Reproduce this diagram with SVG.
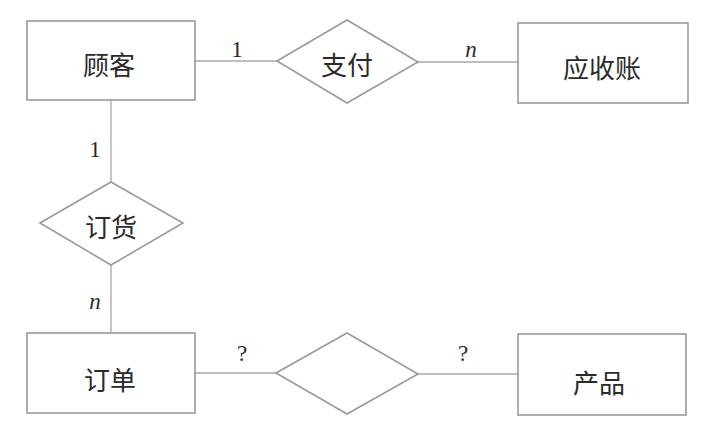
<svg xmlns="http://www.w3.org/2000/svg" width="709" height="438" viewBox="0 0 709 438">
<style>
.box{fill:#fff;stroke:#9a9a9a;stroke-width:1.6}
.ln{stroke:#a8a8a8;stroke-width:1.3;fill:none}
.t{font-family:"Noto Sans CJK SC","Noto Sans",sans-serif;font-size:26px;fill:#2a2a2a;text-anchor:middle;dominant-baseline:central}
.c{font-family:"Liberation Serif",serif;font-size:23px;fill:#2a2a2a;text-anchor:middle}
.i{font-style:italic}
</style>
<rect width="709" height="438" fill="#fff"/>
<g id="connectors">
<line class="ln" x1="195" y1="61" x2="277" y2="61"/>
<line class="ln" x1="418" y1="62" x2="518" y2="62"/>
<line class="ln" x1="111" y1="100" x2="111" y2="182"/>
<line class="ln" x1="111" y1="265" x2="111" y2="333"/>
<line class="ln" x1="195" y1="373" x2="276" y2="373"/>
<line class="ln" x1="418" y1="374" x2="518" y2="374"/>
<text class="c" x="237" y="57">1</text>
<text class="c i" x="471" y="57">n</text>
<text class="c" x="95" y="157">1</text>
<text class="c i" x="95" y="309">n</text>
<text class="c" x="242" y="361">?</text>
<text class="c" x="463" y="361">?</text>
</g>
<g id="customer">
<rect class="box" x="27" y="21" width="168" height="79"/>
<text class="t" x="109" y="63">顾客</text>
</g>
<g id="pay">
<polygon class="box" points="277,61 347,20 418,62 347,103"/>
<text class="t" x="347" y="63">支付</text>
</g>
<g id="receivable">
<rect class="box" x="518" y="23" width="170" height="80"/>
<text class="t" x="602" y="66">应收账</text>
</g>
<g id="order-rel">
<polygon class="box" points="40,223 111,182 183,223 111,265"/>
<text class="t" x="111" y="225">订货</text>
</g>
<g id="order">
<rect class="box" x="27" y="333" width="168" height="80"/>
<text class="t" x="110" y="378">订单</text>
</g>
<g id="empty-rel">
<polygon class="box" points="276,373 347,333 418,374 347,414"/>
</g>
<g id="product">
<rect class="box" x="518" y="334" width="168" height="81"/>
<text class="t" x="599" y="381">产品</text>
</g>
</svg>
